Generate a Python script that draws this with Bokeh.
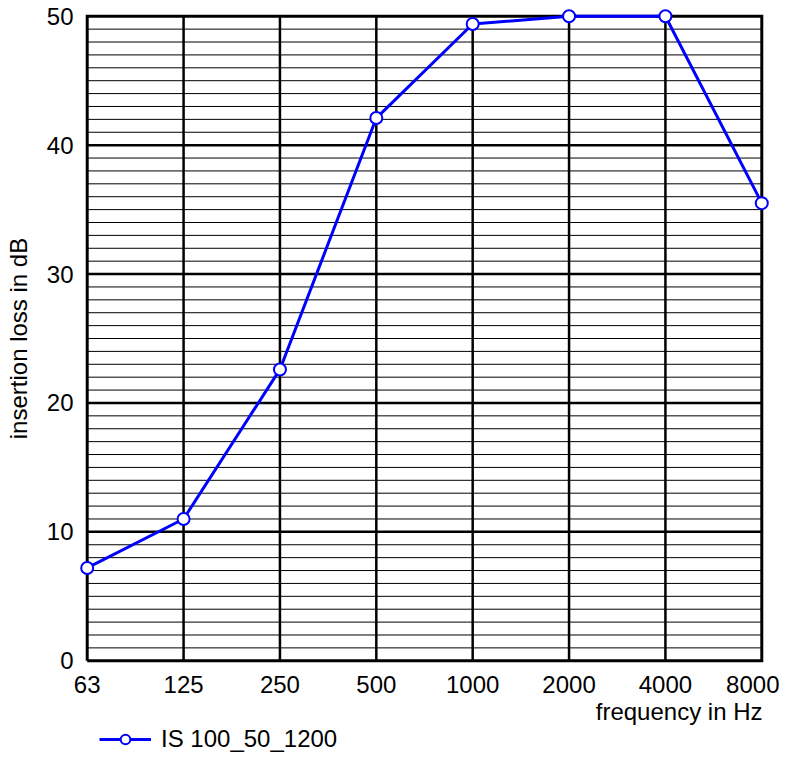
from bokeh.plotting import figure
from bokeh.layouts import column
from bokeh.models import Range1d, FixedTicker, Title, Legend, LegendItem
from bokeh.embed import file_html
from bokeh.resources import INLINE

# ---- data ----
freq_labels = ["63", "125", "250", "500", "1000", "2000", "4000", "8000"]
insertion_loss = [7.2, 11.0, 22.6, 42.1, 49.4, 50.0, 50.0, 35.5]
series_name = "IS 100_50_1200"
y_ticks = [0, 10, 20, 30, 40, 50]
y_min, y_max = 0, 50

FONT = "Liberation Sans"
BLUE = "#0000FF"
xs = list(range(len(freq_labels)))
x_last = xs[-1]

p = figure(output_backend="svg", toolbar_location=None,
           x_range=Range1d(-0.08, x_last + 0.08),
           y_range=Range1d(y_min - 0.6, y_max + 0.6),
           frame_width=690, frame_height=660,
           min_border_left=79, min_border_right=10, min_border_top=8,
           min_border_bottom=56)
p.outline_line_color = None
p.xgrid.visible = False
p.ygrid.visible = False

# axes
for ax in (p.xaxis[0], p.yaxis[0]):
    ax.axis_line_color = None
    ax.major_tick_line_color = None
    ax.minor_tick_line_color = None
    ax.major_label_text_font = FONT
    ax.major_label_text_font_size = "24px"
    ax.major_label_text_color = "black"

p.xaxis.ticker = FixedTicker(ticks=xs)
p.xaxis.major_label_overrides = {i: s for i, s in enumerate(freq_labels)}
p.xaxis.major_label_standoff = 1

p.yaxis.ticker = FixedTicker(ticks=y_ticks)
p.yaxis.major_label_standoff = 0
p.yaxis.axis_label = "insertion loss in dB"
p.yaxis.axis_label_text_font = FONT
p.yaxis.axis_label_text_font_size = "24px"
p.yaxis.axis_label_text_font_style = "normal"
p.yaxis.axis_label_text_color = "black"
p.yaxis.axis_label_standoff = 12

p.add_layout(Title(text="frequency in Hz", align="right", text_font=FONT,
                   text_font_size="24px", text_font_style="normal", offset=7,
                   text_color="black", standoff=1), "below")

# grid lines (drawn in data space)
minor_y = [v for v in range(y_min + 1, y_max) if v % 10 != 0]
major_y = [v for v in y_ticks if y_min < v < y_max]
p.segment(x0=[0] * len(minor_y), x1=[x_last] * len(minor_y), y0=minor_y, y1=minor_y,
          line_color="black", line_width=1)
p.segment(x0=[0] * len(major_y), x1=[x_last] * len(major_y), y0=major_y, y1=major_y,
          line_color="black", line_width=2.5)
inner_x = xs[1:-1]
p.segment(x0=inner_x, x1=inner_x, y0=[y_min] * len(inner_x), y1=[y_max] * len(inner_x),
          line_color="black", line_width=2.5)
# frame border
p.multi_line(xs=[[0, x_last, x_last, 0, 0]], ys=[[y_min, y_min, y_max, y_max, y_min]],
             line_color="black", line_width=3, line_join="miter")

# series
p.line(xs, insertion_loss, line_color=BLUE, line_width=3)
p.scatter(xs, insertion_loss, size=12, fill_color="white",
          line_color=BLUE, line_width=2)

# legend strip below the chart
q = figure(output_backend="svg", toolbar_location=None, width=779, height=36,
           x_range=Range1d(100, 101), y_range=Range1d(100, 101),
           x_axis_location=None, y_axis_location=None, min_border=0)
q.outline_line_color = None
q.grid.visible = False
ln2 = q.line(xs, insertion_loss, line_color=BLUE, line_width=3)
sc2 = q.scatter(xs, insertion_loss, size=12, fill_color="white",
                line_color=BLUE, line_width=2)
lg = Legend(items=[LegendItem(label=series_name, renderers=[ln2, sc2])],
            location=(20, 8), orientation="horizontal",
            glyph_width=52, glyph_height=24, label_standoff=10,
            label_text_font=FONT, label_text_font_size="24px",
            label_text_color="black", border_line_color=None,
            background_fill_alpha=0, padding=0, margin=0)
q.add_layout(lg, "center")

open("out.html", "w").write(file_html(column(p, q, spacing=0), INLINE))
